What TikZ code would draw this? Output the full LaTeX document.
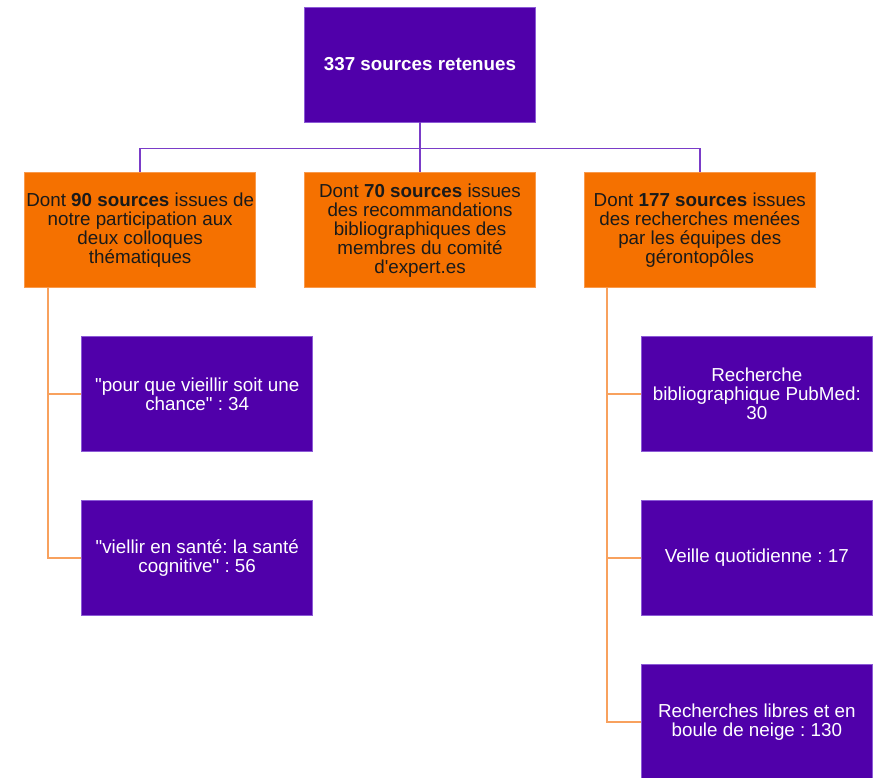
\documentclass[tikz,border=0pt]{standalone}
\usepackage{fontspec}
\setmainfont{Liberation Sans}
\usetikzlibrary{positioning,calc}
\frenchspacing
\definecolor{violetbox}{HTML}{5000AA}
\definecolor{violetedge}{HTML}{8C5AD6}
\definecolor{violetline}{HTML}{7A3CC8}
\definecolor{orangebox}{HTML}{F57100}
\definecolor{orangeedge}{HTML}{F99A4C}
\definecolor{orangeline}{HTML}{F8A15E}
\definecolor{ink}{HTML}{1A1A1A}
\tikzset{
  card/.style={
    minimum width=231pt, minimum height=115pt, inner sep=0pt,
    align=center, line width=0.8pt,
    font=\fontsize{18.8}{19}\selectfont
  },
  vbox/.style={card, fill=violetbox, draw=violetedge, text=white},
  obox/.style={card, fill=orangebox, draw=orangeedge, text=ink},
  vlink/.style={draw=violetline, line width=1.6pt},
  olink/.style={draw=orangeline, line width=1.8pt}
}

\begin{document}
\begin{tikzpicture}[node distance=48pt]
        \useasboundingbox (0,0) rectangle (873pt,-778pt);
        \node[vbox] (root) at (420pt,-64.5pt) {\textbf{337 sources retenues}};
        \node[obox, below=50pt of root] (colloques) {Dont \textbf{70 sources} issues\\des recommandations\\bibliographiques des\\membres du comité\\d\textquotesingle expert.es};
        \node[obox, left=48pt of colloques] (themes) {Dont \textbf{90 sources} issues de\\notre participation aux\\deux colloques\\thématiques};
        \node[obox, right=48pt of colloques] (geronto) {Dont \textbf{177 sources} issues\\des recherches menées\\par les équipes des\\gérontopôles};
        \node[vbox, below right=48pt and 57pt of themes.south west] (chance) {\textquotedbl pour que vieillir soit une\\chance\textquotedbl{} : 34};
        \node[vbox, below=of chance] (cognitive) {\textquotedbl viellir en santé: la santé\\cognitive\textquotedbl{} : 56};
        \node[vbox, below right=48pt and 57pt of geronto.south west] (pubmed) {Recherche\\bibliographique PubMed:\\30};
        \node[vbox, below=of pubmed] (veille) {Veille quotidienne : 17};
        \node[vbox, below=of veille] (neige) {Recherches libres et en\\boule de neige : 130};
        % tree links
        \coordinate (split) at ($(root.south)+(0,-26pt)$);
        \draw[vlink] (root.south) -- (split) -| (themes.north);
        \draw[vlink] (split) -| (geronto.north);
        \draw[vlink] (split) -- (colloques.north);
        \draw[olink] ([xshift=24pt]themes.south west) |- (chance.west);
        \draw[olink] ([xshift=24pt]themes.south west) |- (cognitive.west);
        \draw[olink] ([xshift=23pt]geronto.south west) |- (pubmed.west);
        \draw[olink] ([xshift=23pt]geronto.south west) |- (veille.west);
        \draw[olink] ([xshift=23pt]geronto.south west) |- (neige.west);
      \end{tikzpicture}
\end{document}
